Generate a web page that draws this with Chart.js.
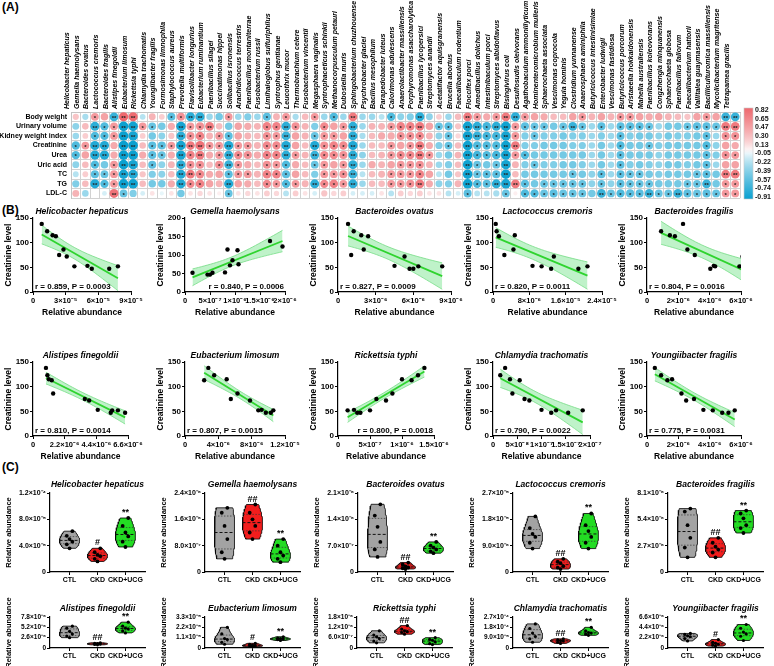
<!DOCTYPE html>
<html>
<head>
<meta charset="utf-8">
<title>Gut microbiota vs renal markers</title>
<script src="https://cdn.jsdelivr.net/npm/chart.js@4.4.1/dist/chart.umd.min.js"></script>
<style>
  body { margin: 0; background: #fff; }
  #page { position: relative; width: 774px; height: 666px; overflow: hidden; font-family: "Liberation Sans", Arial, sans-serif; }
  #page canvas { position: absolute; }
  .panel-tag { position: absolute; left: 2px; font-size: 12px; font-weight: bold; color: #000; }
</style>
</head>
<body>
<div id="page">
  <div class="panel-tag" style="top:0px">(A)</div>
  <div class="panel-tag" style="top:203px">(B)</div>
  <div class="panel-tag" style="top:460px">(C)</div>
</div>
<script>
// ---------- (A) correlation heatmap data ----------
const bacteria = [
  'Helicobacter hepaticus','Gemella haemolysans','Bacteroides ovatus','Lactococcus cremoris','Bacteroides fragilis','Alistipes finegoldii','Eubacterium limosum','Rickettsia typhi','Chlamydia trachomatis','Youngiibacter fragilis',
  'Formosimonas limnophila','Staphylococcus aureus','Prevotella multiformis','Flavisolibacter longurius','Eubacterium ruminantium','Paenibacillus silagei','Succinatimonas hippei','Solibacillus isronensis','Arachidicoccus terrestris','Paenibacillus montaniterrae',
  'Fusobacterium russii','Limihaloglobus sulfuriphilus','Syntrophus gentianae','Leucothrix mucor','Thermobrachium celere','Fusobacterium vincentii','Megasphaera vaginalis','Syntrophaceticus schinkii','Methanocorpusculum petauri','Dubosiella muris',
  'Sphingobacterium chuzhouense','Psychrobacter glaciei','Bacillus mesophilum','Parapedobacter luteus','Calorimonas adulescens','Anaerolactibacter massiliensis','Porphyromonas asaccharolytica','Paenibacillus lycopersici','Streptomyces anandii','Acetatifactor aquisgranensis',
  'Brucella abortus','Faecalibaculum rodentium','Floccifex porci','Amedibacillus dolichus','Intestinibaculum porci','Streptomyces albidoflavus','Bisingivirus coli','Desulfosudis oleivorans','Agathobaculum ammoniilyticum','Hominenteromicrobium mulieris',
  'Sphaerochaeta associata','Vescimonas coprocola','Yeguia hominis','Clostridium yunnanense','Anaerosphaera aminiphila','Butyricicoccus intestinisimiae','Enterobacter ludwigii','Vescimonas fastidiosa','Butyricicoccus porcorum','Aristaeella hokkaidonensis',
  'Mahella australiensis','Paenibacillus koleovorans','Congzhengia minquanensis','Sphaerochaeta globosa','Paenibacillus fallorum','Faecalibacterium hattorii','Vallitalea guaymasensis','Bacilliculturomica massiliensis','Mycolicibacterium magritense','Tetrapamea gracilis'
];
const clinicalVars = ['Body weight','Urinary volume','Kidney weight index','Creatinine','Urea','Uric acid','TC','TG','LDL-C'];

const bodyWeight = [
  0.25,-0.25,0.5,0.45,-0.7,0.82,0.8,-0.2,0.35,0.2,
  -0.55,0.55,-0.75,-0.75,-0.3,-0.45,0.5,-0.3,-0.4,-0.3,
  -0.55,0.35,0.5,-0.25,0.3,0.5,-0.3,-0.6,-0.3,0.7,
  -0.3,-0.3,-0.2,-0.6,-0.35,-0.4,-0.75,-0.35,0.2,-0.3,
  0.3,0.7,0.5,0.4,0.5,0.7,-0.75,0.5,0.45,0.4,
  0.3,0.3,0.45,0.5,0.35,0.45,0.35,0.5,0.5,0.45,
  0.4,0.45,0.35,0.3,0.25,0.45,0.5,0.45,-0.7,-0.7];
const urinaryVolume = [
  -0.35,0.3,-0.75,-0.6,0.5,-0.9,-0.88,0.5,-0.5,-0.45,
  0.4,-0.85,0.5,0.55,0.7,0.3,-0.45,0.45,0.4,0.35,
  0.65,0.65,-0.75,0.55,0.35,-0.4,0.6,0.45,0.5,-0.75,
  -0.3,0.35,0.35,0.5,0.65,0.65,0.7,0.45,-0.5,-0.55,
  0.25,-0.88,-0.75,-0.65,-0.75,-0.88,0.5,-0.55,-0.5,-0.5,
  -0.45,-0.5,-0.7,-0.5,-0.3,-0.55,-0.3,-0.55,-0.55,-0.55,
  -0.5,-0.3,-0.45,-0.45,-0.5,-0.55,-0.55,-0.5,0.7,0.7];
const kidneyWeightIndex = [
  -0.3,0.2,-0.6,-0.6,0.5,-0.9,-0.85,0.2,-0.45,-0.35,
  0.25,-0.75,0.55,0.65,0.35,0.5,-0.55,0.45,0.35,0.3,
  0.55,0.5,-0.7,0.45,0.35,-0.5,0.5,0.5,0.45,-0.75,
  -0.25,0.3,0.4,0.4,0.55,0.55,0.6,0.35,-0.35,-0.5,
  0.15,-0.88,-0.7,-0.65,-0.65,-0.85,0.5,-0.4,-0.5,-0.4,
  -0.4,-0.45,-0.4,-0.4,-0.3,-0.4,-0.3,-0.55,-0.4,-0.45,
  -0.45,-0.35,-0.45,-0.4,-0.4,-0.45,-0.55,-0.3,0.55,0.55];
const creatinine = [
  -0.6,0.5,-0.8,-0.8,0.4,-0.91,-0.9,0.3,-0.55,-0.55,
  0.5,-0.85,0.7,0.75,0.5,0.5,-0.8,0.5,0.5,0.35,
  0.6,0.6,-0.8,0.45,0.3,-0.8,0.55,0.65,0.6,-0.8,
  -0.3,0.3,0.3,0.5,0.45,0.5,0.7,0.4,-0.4,-0.5,
  0.3,-0.88,-0.6,-0.6,-0.6,-0.88,0.7,-0.4,-0.4,-0.45,
  -0.45,-0.45,-0.4,-0.4,-0.3,-0.45,-0.3,-0.6,-0.45,-0.45,
  -0.5,-0.4,-0.45,-0.45,-0.45,-0.45,-0.6,-0.35,0.45,0.4];
const urea = [
  -0.6,0.45,-0.8,-0.8,0.4,-0.91,-0.9,0.4,-0.55,-0.5,
  0.4,-0.85,0.65,0.7,0.4,0.5,-0.75,0.6,0.55,0.4,
  0.65,0.65,-0.75,0.5,0.35,-0.7,0.6,0.6,0.55,-0.75,
  -0.35,0.3,0.35,0.5,0.6,0.6,0.7,0.5,-0.3,-0.45,
  0.35,-0.88,-0.65,-0.6,-0.65,-0.88,0.5,-0.6,-0.45,-0.45,
  -0.45,-0.45,-0.45,-0.45,-0.3,-0.45,-0.3,-0.55,-0.45,-0.45,
  -0.45,-0.35,-0.45,-0.45,-0.45,-0.45,-0.55,-0.4,0.55,0.5];
const uricAcid = [
  -0.35,0.3,-0.6,-0.45,0.5,-0.9,-0.85,0.3,-0.55,-0.35,
  0.35,-0.75,0.55,0.55,0.3,0.55,-0.7,0.5,0.4,0.3,
  0.55,0.5,-0.6,0.4,0.3,-0.5,0.5,0.45,0.5,-0.75,
  -0.3,0.4,0.35,0.45,0.5,0.5,0.55,0.35,-0.3,-0.4,
  0.3,-0.88,-0.5,-0.45,-0.5,-0.85,0.35,-0.4,-0.5,-0.4,
  -0.4,-0.45,-0.45,-0.4,-0.3,-0.45,-0.3,-0.55,-0.4,-0.45,
  -0.4,-0.35,-0.45,-0.45,-0.4,-0.45,-0.55,-0.3,0.45,0.45];
const tc = [
  -0.2,0.2,-0.55,-0.5,0.5,-0.85,-0.8,0.25,-0.4,-0.35,
  0.3,-0.8,0.7,0.6,0.4,0.45,-0.55,0.5,0.5,0.35,
  0.65,0.65,-0.55,0.45,0.3,-0.4,0.5,0.5,0.55,-0.7,
  -0.2,0.3,0.35,0.5,0.5,0.5,0.65,0.45,-0.2,-0.45,
  0.25,-0.88,-0.5,-0.55,-0.55,-0.88,0.3,-0.45,-0.45,-0.45,
  -0.45,-0.45,-0.5,-0.45,-0.35,-0.55,-0.3,-0.55,-0.5,-0.5,
  -0.45,-0.4,-0.45,-0.45,-0.45,-0.5,-0.55,-0.45,0.7,0.7];
const tg = [
  -0.4,0.3,-0.8,-0.6,0.5,-0.9,-0.88,0.3,-0.45,-0.45,
  0.4,-0.8,0.6,0.65,0.45,0.35,-0.8,0.45,0.4,0.3,
  0.6,0.5,-0.6,0.5,0.35,-0.75,0.6,0.65,0.5,-0.75,
  -0.3,0.3,0.3,0.5,0.5,0.55,0.7,0.4,-0.35,-0.4,
  0.35,-0.88,-0.6,-0.55,-0.75,-0.85,0.7,-0.55,-0.45,-0.5,
  -0.5,-0.5,-0.5,-0.5,-0.35,-0.5,-0.35,-0.55,-0.5,-0.5,
  -0.5,-0.45,-0.45,-0.45,-0.5,-0.5,-0.7,-0.45,0.5,0.5];
const ldlC = [
  0.35,-0.3,0,-0.1,0.75,-0.5,-0.4,-0.1,0.1,-0.05,
  0.1,-0.45,0.1,0.15,0.1,0.05,-0.5,0.1,0.15,0.1,
  0.2,0.15,-0.2,0.2,0.1,-0.1,0.25,0.15,0.2,-0.1,
  -0.1,-0.1,0.1,-0.2,0.2,0.15,0.2,0.1,0.1,-0.2,
  -0.1,-0.55,-0.2,-0.2,-0.25,-0.5,0.05,-0.6,-0.6,-0.5,
  -0.55,-0.5,-0.5,-0.5,-0.45,-0.7,-0.5,-0.6,-0.55,-0.55,
  -0.7,-0.5,-0.5,-0.7,-0.55,-0.5,-0.55,-0.5,0.5,0.5];
const legendTicks = ['0.82','0.65','0.47','0.30','0.13','-0.05','-0.22','-0.39','-0.57','-0.74','-0.91'];

// ---------- (B) creatinine vs relative abundance ----------
const helicobacterAbund = [0.8e-5,1.3e-5,1.8e-5,2.1e-5,2.4e-5,2.8e-5,3.1e-5,3.8e-5,5.0e-5,5.4e-5,7.0e-5,7.8e-5];
const helicobacterCreat = [138,123,115,113,75,86,72,52,53,47,47,52];
const gemellaAbund = [0.15e-6,0.45e-6,0.5e-6,0.55e-6,0.8e-6,0.85e-6,0.9e-6,0.95e-6,1.05e-6,1.07e-6,1.7e-6,1.95e-6];
const gemellaCreat = [52,47,47,52,53,115,72,86,113,75,138,123];
const ovatusAbund = [0.8e-6,1.05e-6,1.25e-6,1.85e-6,2.05e-6,2.4e-6,4.5e-6,5.3e-6,5.7e-6,6.0e-6,6.4e-6,8.3e-6];
const ovatusCreat = [138,75,123,115,86,113,53,72,47,47,52,52];
const lactococcusAbund = [0.06e-5,0.08e-5,0.13e-5,0.25e-5,0.45e-5,0.48e-5,0.87e-5,1.07e-5,1.28e-5,1.34e-5,1.88e-5,2.08e-5];
const lactococcusCreat = [138,123,113,75,86,115,53,52,47,72,47,52];
const fragilisAbund = [0.9e-6,1.46e-6,1.78e-6,2.3e-6,2.58e-6,3.05e-6,4.04e-6,4.26e-6,4.35e-6,5.9e-6,6.1e-6,6.4e-6];
const fragilisCreat = [123,115,113,138,86,75,47,53,52,52,72,47];
const alistipesAbund = [0.9e-6,1.0e-6,1.1e-6,1.3e-6,1.4e-6,3.6e-6,3.9e-6,4.5e-6,5.4e-6,5.5e-6,5.9e-6,6.4e-6];
const alistipesCreat = [138,123,115,113,86,75,72,53,47,52,52,47];
const limosumAbund = [2.3e-6,2.8e-6,3.5e-6,5.0e-6,5.5e-6,6.3e-6,7.8e-6,8.8e-6,9.2e-6,9.7e-6,10.3e-6,10.6e-6];
const limosumCreat = [113,138,123,115,75,86,72,52,53,47,47,52];
const rickettsiaAbund = [1.5e-7,2.5e-7,3.0e-7,3.5e-7,5.0e-7,6.0e-7,7.5e-7,8.5e-7,10.0e-7,11.5e-7,12.5e-7,13.5e-7];
const rickettsiaCreat = [52,53,47,47,52,75,72,86,115,113,123,138];
const chlamydiaAbund = [1.5e-8,2.5e-8,3.5e-8,4.0e-8,5.5e-8,6.5e-8,7.5e-8,10.0e-8,12.0e-8,13.0e-8,15.5e-8,18.5e-8];
const chlamydiaCreat = [123,138,115,86,113,75,72,53,47,52,47,52];
const youngiiAbund = [0.5e-6,0.9e-6,1.3e-6,1.6e-6,2.2e-6,2.5e-6,3.0e-6,3.6e-6,4.2e-6,4.8e-6,5.2e-6,5.6e-6];
const youngiiCreat = [138,123,113,115,86,72,75,53,52,47,47,52];

// ---------- (C) relative abundance per group: [CTL, CKD, CKD+UCG] ----------
const groupNames = ['CTL','CKD','CKD+UCG'];
const violinHelicobacter = [[3.6e-5,4.2e-5,4.6e-5,5.0e-5,5.5e-5,6.2e-5],[1.6e-5,2.0e-5,2.4e-5,2.6e-5,3.0e-5,3.6e-5],[3.8e-5,4.6e-5,5.4e-5,6.0e-5,7.0e-5,8.2e-5]];
const violinGemella = [[4e-7,6e-7,10e-7,14e-7,18e-7,19.5e-7],[10e-7,12e-7,14e-7,16e-7,18e-7,20.5e-7],[3e-7,4e-7,5e-7,6e-7,8e-7,10e-7]];
const violinOvatus = [[4e-7,6e-7,8e-7,12e-7,15e-7,18e-7],[0.8e-7,1e-7,1.2e-7,1.5e-7,2e-7,2.5e-7],[5e-7,5.5e-7,6e-7,6.5e-7,7e-7,8e-7]];
const violinLactococcus = [[8e-6,10e-6,12e-6,13e-6,15e-6,19e-6],[1e-6,1.5e-6,2e-6,3e-6,3.5e-6,4.5e-6],[8e-6,10e-6,12e-6,14e-6,16e-6,20e-6]];
const violinFragilis = [[1.5e-6,2.5e-6,3.5e-6,4.8e-6,6.2e-6,6.5e-6],[1.5e-6,2e-6,2.3e-6,2.6e-6,3e-6,3.5e-6],[4e-6,4.5e-6,4.8e-6,5.5e-6,6e-6,6.3e-6]];
const violinAlistipes = [[2.6e-6,3.0e-6,3.5e-6,4.2e-6,5.0e-6,5.5e-6],[0.8e-6,0.9e-6,1.0e-6,1.1e-6,1.2e-6,1.3e-6],[3.8e-6,4.3e-6,4.8e-6,5.0e-6,5.5e-6,6.5e-6]];
const violinLimosum = [[4e-6,6e-6,9e-6,10e-6,15e-6,22e-6],[1.5e-6,2e-6,2.5e-6,3e-6,4e-6,5e-6],[8e-6,9e-6,9.5e-6,10e-6,10.5e-6,12e-6]];
const violinRickettsia = [[3e-7,4e-7,5.5e-7,6.5e-7,7.5e-7,10e-7],[8e-7,9e-7,9.5e-7,10e-7,11e-7,13e-7],[2e-7,2.5e-7,3.5e-7,4.5e-7,5e-7,6e-7]];
const violinChlamydia = [[5e-5,8e-5,10e-5,13e-5,17e-5,21e-5],[4e-5,5e-5,6e-5,6.5e-5,7e-5,8e-5],[11e-5,12e-5,13e-5,13.5e-5,15e-5,18e-5]];
const violinYoungii = [[1.5e-6,2e-6,2.4e-6,2.6e-6,2.9e-6,3.1e-6],[0.4e-6,0.6e-6,0.8e-6,1.0e-6,1.2e-6,1.8e-6],[1.6e-6,2.5e-6,3.0e-6,3.4e-6,4.2e-6,5.0e-6]];

// ---------- shared setup ----------
Chart.defaults.font.family = '"Liberation Sans", Arial, sans-serif';
Chart.defaults.color = '#000';
Chart.defaults.animation = false;
Chart.defaults.events = [];
Chart.defaults.plugins.legend.display = false;
Chart.defaults.plugins.tooltip.enabled = false;
const FONT = '"Liberation Sans", Arial, sans-serif';

const page = document.getElementById('page');
function addCanvas(left, top, width, height) {
  const c = document.createElement('canvas');
  c.width = width; c.height = height;
  c.style.left = left + 'px'; c.style.top = top + 'px';
  c.style.width = width + 'px'; c.style.height = height + 'px';
  page.appendChild(c);
  return c;
}

// colour scale of the correlation map
function corrColor(v) {
  const red = [238, 104, 110], blue = [10, 160, 208];
  const t = v >= 0 ? Math.min(v / 0.82, 1) : Math.min(-v / 0.91, 1);
  const end = v >= 0 ? red : blue;
  const k = Math.pow(t, 0.8);
  const c = end.map(e => Math.round(255 + (e - 255) * k));
  return 'rgb(' + c.join(',') + ')';
}
function bubbleRadius(v) { return 1.2 + 3.8 * Math.sqrt(Math.abs(v)); }

// ---------- (A) ----------
const rowSeries = [bodyWeight, urinaryVolume, kidneyWeightIndex, creatinine, urea, uricAcid, tc, tg, ldlC];
const cells = [];
clinicalVars.forEach((name, r) => rowSeries[r].forEach((v, c) => cells.push({ x: bacteria[c], y: name, v: v })));

const starPlugin = {
  id: 'stars',
  afterDatasetsDraw(chart) {
    const ctx = chart.ctx;
    const meta = chart.getDatasetMeta(0);
    ctx.save();
    ctx.fillStyle = '#222';
    ctx.font = 'bold 6px ' + FONT;
    ctx.textAlign = 'center';
    ctx.textBaseline = 'middle';
    meta.data.forEach((pt, i) => {
      const a = Math.abs(cells[i].v);
      const mark = a >= 0.7 ? '**' : a >= 0.5 ? '*' : '';
      if (mark) ctx.fillText(mark, pt.x, pt.y + 1.5);
    });
    ctx.restore();
  }
};

const colorBarPlugin = {
  id: 'colorBar',
  afterDraw(chart) {
    const ctx = chart.ctx;
    const x = 744, w = 9, top = 108, bottom = 199;
    const hi = parseFloat(legendTicks[0]), lo = parseFloat(legendTicks[legendTicks.length - 1]);
    const grad = ctx.createLinearGradient(0, top, 0, bottom);
    for (let k = 0; k <= 20; k++) grad.addColorStop(k / 20, corrColor(hi - (hi - lo) * k / 20));
    ctx.save();
    ctx.fillStyle = grad;
    ctx.fillRect(x, top, w, bottom - top);
    ctx.strokeStyle = '#c8c8c8';
    ctx.lineWidth = 0.6;
    ctx.strokeRect(x, top, w, bottom - top);
    ctx.fillStyle = '#111';
    ctx.font = 'bold 7px ' + FONT;
    ctx.textAlign = 'left';
    ctx.textBaseline = 'middle';
    const step = (bottom - top - 4) / (legendTicks.length - 1);
    legendTicks.forEach((t, i) => ctx.fillText(t, x + w + 2, top + 2 + i * step));
    ctx.restore();
  }
};

new Chart(addCanvas(0, 0, 774, 203), {
  type: 'bubble',
  data: { datasets: [{
    data: cells,
    radius: c => bubbleRadius(c.raw.v),
    backgroundColor: c => corrColor(c.raw.v),
    borderWidth: 0
  }] },
  options: {
    responsive: false,
    layout: { padding: { left: 0, top: 0, right: 34, bottom: 3 } },
    scales: {
      x: {
        type: 'category', labels: bacteria, position: 'top', offset: true,
        grid: { offset: true, color: '#d2d2d2', drawTicks: false },
        border: { color: '#c4c4c4' },
        ticks: { autoSkip: false, minRotation: 90, maxRotation: 90, padding: 3, font: { size: 7, style: 'italic', weight: 'bold' } },
        afterFit: s => { s.height = 112; s.paddingLeft = 0; s.paddingRight = 0; }
      },
      y: {
        type: 'category', labels: clinicalVars, offset: true,
        grid: { offset: true, color: '#d2d2d2', drawTicks: false },
        border: { color: '#c4c4c4' },
        ticks: { autoSkip: false, padding: 4, font: { size: 7, weight: 'bold' } },
        afterFit: s => { s.width = 71; s.paddingTop = 0; s.paddingBottom = 0; }
      }
    }
  },
  plugins: [starPlugin, colorBarPlugin]
});

// ---------- text drawn around the small plots ----------
const panelText = {
  id: 'panelText',
  afterDraw(chart, args, opts) {
    const { ctx, chartArea: a } = chart;
    ctx.save();
    ctx.fillStyle = '#000';
    ctx.textAlign = 'center';
    ctx.textBaseline = 'bottom';
    ctx.font = 'italic bold 8.5px ' + FONT;
    ctx.fillText(opts.title, (a.left + a.right) / 2, a.top - opts.titleGap);
    if (opts.stat) {
      ctx.font = 'bold 8px ' + FONT;
      ctx.textAlign = opts.statRight ? 'right' : 'left';
      ctx.fillText(opts.stat, opts.statRight ? a.right - 1 : a.left + 2, a.bottom - 1);
    }
    if (opts.marks) {
      const xs = chart.scales.x, ys = chart.scales.y;
      ctx.font = 'bold 9px ' + FONT;
      ctx.textAlign = 'center';
      opts.marks.forEach((m, g) => {
        if (!m) return;
        const top = Math.max(...opts.groups[g]);
        ctx.fillText(m, xs.getPixelForValue(g + 1), ys.getPixelForValue(top) - 1);
      });
    }
    ctx.restore();
  }
};

function axisStyle(extra) {
  return Object.assign({
    grid: { drawOnChartArea: false, color: '#000', tickLength: 3, lineWidth: 1 },
    border: { color: '#000', width: 1.2 }
  }, extra);
}

// ---------- (B) ----------
const T_CRIT = { 9: 2.262, 10: 2.228, 11: 2.201 };
function regressionBand(xs, ys) {
  const n = xs.length;
  const mx = xs.reduce((a, b) => a + b, 0) / n, my = ys.reduce((a, b) => a + b, 0) / n;
  let sxx = 0, sxy = 0;
  xs.forEach((x, i) => { sxx += (x - mx) ** 2; sxy += (x - mx) * (ys[i] - my); });
  const b = sxy / sxx, a = my - b * mx;
  let sse = 0;
  xs.forEach((x, i) => { sse += (ys[i] - a - b * x) ** 2; });
  const s = Math.sqrt(sse / (n - 2)), t = T_CRIT[n - 2] || 2.228;
  const lo = Math.min(...xs), hi = Math.max(...xs);
  const line = [{ x: lo, y: a + b * lo }, { x: hi, y: a + b * hi }];
  const upper = [], lower = [];
  for (let k = 0; k <= 30; k++) {
    const x = lo + (hi - lo) * k / 30;
    const half = t * s * Math.sqrt(1 / n + (x - mx) ** 2 / sxx);
    upper.push({ x: x, y: a + b * x + half });
    lower.push({ x: x, y: a + b * x - half });
  }
  return { line, upper, lower };
}

const scatterSpecs = [
  { title: 'Helicobacter hepaticus', x: helicobacterAbund, y: helicobacterCreat, stat: 'r = 0.859, P = 0.0003', xMax: 9e-5, xTicks: [0, 3e-5, 6e-5, 9e-5], xLabels: ['0', '3×10⁻⁵', '6×10⁻⁵', '9×10⁻⁵'], yMax: 150, axisX: 33, top: 218, plotW: 98 },
  { title: 'Gemella haemolysans', x: gemellaAbund, y: gemellaCreat, stat: 'r = 0.840, P = 0.0006', statRight: true, xMax: 2e-6, xTicks: [0, 5e-7, 1e-6, 1.5e-6, 2e-6], xLabels: ['0', '5×10⁻⁷', '1×10⁻⁶', '1.5×10⁻⁶', '2×10⁻⁶'], yMax: 200, axisX: 185, top: 218, plotW: 100 },
  { title: 'Bacteroides ovatus', x: ovatusAbund, y: ovatusCreat, stat: 'r = 0.827, P = 0.0009', xMax: 9e-6, xTicks: [0, 3e-6, 6e-6, 9e-6], xLabels: ['0', '3×10⁻⁶', '6×10⁻⁶', '9×10⁻⁶'], yMax: 150, axisX: 338, top: 218, plotW: 113 },
  { title: 'Lactococcus cremoris', x: lactococcusAbund, y: lactococcusCreat, stat: 'r = 0.820, P = 0.0011', xMax: 2.4e-5, xTicks: [0, 8e-6, 1.6e-5, 2.4e-5], xLabels: ['0', '8×10⁻⁶', '1.6×10⁻⁵', '2.4×10⁻⁵'], yMax: 150, axisX: 493, top: 218, plotW: 109 },
  { title: 'Bacteroides fragilis', x: fragilisAbund, y: fragilisCreat, stat: 'r = 0.804, P = 0.0016', xMax: 6e-6, xTicks: [0, 2e-6, 4e-6, 6e-6], xLabels: ['0', '2×10⁻⁶', '4×10⁻⁶', '6×10⁻⁶'], yMax: 150, axisX: 647, top: 218, plotW: 94 },
  { title: 'Alistipes finegoldii', x: alistipesAbund, y: alistipesCreat, stat: 'r = 0.810, P = 0.0014', xMax: 6.6e-6, xTicks: [0, 2.2e-6, 4.4e-6, 6.6e-6], xLabels: ['0', '2.2×10⁻⁶', '4.4×10⁻⁶', '6.6×10⁻⁶'], yMax: 150, axisX: 33, top: 362, plotW: 95 },
  { title: 'Eubacterium limosum', x: limosumAbund, y: limosumCreat, stat: 'r = 0.807, P = 0.0015', xMax: 1.2e-5, xTicks: [0, 4e-6, 8e-6, 1.2e-5], xLabels: ['0', '4×10⁻⁶', '8×10⁻⁶', '1.2×10⁻⁵'], yMax: 150, axisX: 185, top: 362, plotW: 100 },
  { title: 'Rickettsia typhi', x: rickettsiaAbund, y: rickettsiaCreat, stat: 'r = 0.800, P = 0.0018', statRight: true, xMax: 1.5e-6, xTicks: [0, 5e-7, 1e-6, 1.5e-6], xLabels: ['0', '5×10⁻⁷', '1×10⁻⁶', '1.5×10⁻⁶'], yMax: 150, axisX: 338, top: 362, plotW: 96 },
  { title: 'Chlamydia trachomatis', x: chlamydiaAbund, y: chlamydiaCreat, stat: 'r = 0.790, P = 0.0022', xMax: 2e-7, xTicks: [0, 5e-8, 1e-7, 1.5e-7, 2e-7], xLabels: ['0', '5×10⁻⁸', '1×10⁻⁷', '1.5×10⁻⁷', '2×10⁻⁷'], yMax: 150, axisX: 493, top: 362, plotW: 97 },
  { title: 'Youngiibacter fragilis', x: youngiiAbund, y: youngiiCreat, stat: 'r = 0.775, P = 0.0031', xMax: 6e-6, xTicks: [0, 2e-6, 4e-6, 6e-6], xLabels: ['0', '2×10⁻⁶', '4×10⁻⁶', '6×10⁻⁶'], yMax: 150, axisX: 647, top: 362, plotW: 94 }
];

function drawScatter(spec) {
  const yW = 29, padTop = 14, plotH = 74, xH = 26, padRight = 22;
  const fit = regressionBand(spec.x, spec.y);
  new Chart(addCanvas(spec.axisX - yW, spec.top - padTop, yW + spec.plotW + padRight, padTop + plotH + xH), {
    type: 'line',
    data: { datasets: [
      { data: spec.x.map((x, i) => ({ x: x, y: spec.y[i] })), showLine: false, pointRadius: 2.2, pointBackgroundColor: '#000', pointBorderWidth: 0 },
      { data: fit.line, borderColor: '#2fd42f', borderWidth: 1.8, pointRadius: 0 },
      { data: fit.upper, borderColor: '#74dc84', borderWidth: 0.8, pointRadius: 0, fill: '+1', backgroundColor: 'rgba(128,230,148,0.5)' },
      { data: fit.lower, borderColor: '#74dc84', borderWidth: 0.8, pointRadius: 0 }
    ] },
    options: {
      responsive: false,
      layout: { padding: { left: 0, top: padTop, right: padRight, bottom: 0 } },
      plugins: { panelText: { title: spec.title, titleGap: 2, stat: spec.stat, statRight: spec.statRight } },
      scales: {
        x: axisStyle({
          type: 'linear', min: 0, max: spec.xMax,
          afterBuildTicks: s => { s.ticks = spec.xTicks.map(v => ({ value: v })); },
          afterFit: s => { s.height = xH; s.paddingLeft = 0; s.paddingRight = 0; },
          ticks: { autoSkip: false, maxRotation: 0, padding: 1, font: { size: 7.5, weight: 'bold' }, callback: (v, i) => spec.xLabels[i] },
          title: { display: true, text: 'Relative abundance', font: { size: 8.5, weight: 'bold' }, padding: 0 }
        }),
        y: axisStyle({
          type: 'linear', min: 0, max: spec.yMax,
          afterFit: s => { s.width = yW; s.paddingTop = 0; s.paddingBottom = 0; },
          ticks: { stepSize: 50, padding: 1, font: { size: 8, weight: 'bold' } },
          title: { display: true, text: 'Creatinine level', font: { size: 8.5, weight: 'bold' }, padding: 0 }
        })
      }
    },
    plugins: [panelText]
  });
}
scatterSpecs.forEach(drawScatter);

// ---------- (C) ----------
const groupColors = ['#a3a3a3', '#f21d1d', '#23dc23'];

function kde(vals, y, h) {
  let s = 0;
  vals.forEach(v => { const u = (y - v) / h; s += Math.exp(-0.5 * u * u); });
  return s / (vals.length * h);
}
function quantile(sorted, q) {
  const pos = (sorted.length - 1) * q, i = Math.floor(pos), f = pos - i;
  return sorted[i] + (sorted[Math.min(i + 1, sorted.length - 1)] - sorted[i]) * f;
}
function violinParts(vals, g, halfW) {
  const n = vals.length, mean = vals.reduce((a, b) => a + b, 0) / n;
  const sd = Math.sqrt(vals.reduce((a, b) => a + (b - mean) ** 2, 0) / (n - 1));
  const h = 1.06 * sd * Math.pow(n, -0.2);
  const sorted = vals.slice().sort((a, b) => a - b);
  const lo = sorted[0], hi = sorted[n - 1];
  const ys = [], ds = [];
  for (let k = 0; k <= 30; k++) { const y = lo + (hi - lo) * k / 30; ys.push(y); ds.push(kde(vals, y, h)); }
  const dmax = Math.max(...ds);
  const right = ys.map((y, k) => ({ x: g + halfW * ds[k] / dmax, y: y }));
  const left = ys.map((y, k) => ({ x: g - halfW * ds[k] / dmax, y: y })).reverse();
  const across = q => { const y = quantile(sorted, q); const w = halfW * kde(vals, y, h) / dmax; return [{ x: g - w, y: y }, { x: g + w, y: y }]; };
  const swarm = sorted.map((y, k) => ({ x: g + [0, -0.1, 0.1][k % 3], y: y }));
  return { outline: right.concat(left, [right[0]]), median: across(0.5), q1: across(0.25), q3: across(0.75), swarm };
}

const violinSpecs = [
  { title: 'Helicobacter hepaticus', groups: violinHelicobacter, marks: ['', '#', '**'], yTicks: [0, 4e-5, 8e-5, 1.2e-4], yLabels: ['0', '4.0×10⁻⁵', '8.0×10⁻⁵', '1.2×10⁻⁴'], axisX: 50, top: 493, plotH: 79 },
  { title: 'Gemella haemolysans', groups: violinGemella, marks: ['', '##', '**'], yTicks: [0, 8e-7, 1.6e-6, 2.4e-6], yLabels: ['0', '8.0×10⁻⁷', '1.6×10⁻⁶', '2.4×10⁻⁶'], axisX: 205, top: 493, plotH: 79 },
  { title: 'Bacteroides ovatus', groups: violinOvatus, marks: ['', '##', '**'], yTicks: [0, 7e-7, 1.4e-6, 2.1e-6], yLabels: ['0', '7.0×10⁻⁷', '1.4×10⁻⁶', '2.1×10⁻⁶'], axisX: 358, top: 493, plotH: 79 },
  { title: 'Lactococcus cremoris', groups: violinLactococcus, marks: ['', '##', '**'], yTicks: [0, 9e-6, 1.8e-5, 2.7e-5], yLabels: ['0', '9.0×10⁻⁶', '1.8×10⁻⁵', '2.7×10⁻⁵'], axisX: 513, top: 493, plotH: 79 },
  { title: 'Bacteroides fragilis', groups: violinFragilis, marks: ['', '##', '**'], yTicks: [0, 2.7e-6, 5.4e-6, 8.1e-6], yLabels: ['0', '2.7×10⁻⁶', '5.4×10⁻⁶', '8.1×10⁻⁶'], axisX: 668, top: 493, plotH: 79 },
  { title: 'Alistipes finegoldii', groups: violinAlistipes, marks: ['', '##', '**'], yTicks: [0, 2.6e-6, 5.2e-6, 7.8e-6], yLabels: ['0', '2.6×10⁻⁶', '5.2×10⁻⁶', '7.8×10⁻⁶'], axisX: 50, top: 617, plotH: 31 },
  { title: 'Eubacterium limosum', groups: violinLimosum, marks: ['', '#', '**'], yTicks: [0, 1.1e-5, 2.2e-5, 3.3e-5], yLabels: ['0', '1.1×10⁻⁵', '2.2×10⁻⁵', '3.3×10⁻⁵'], axisX: 205, top: 617, plotH: 31 },
  { title: 'Rickettsia typhi', groups: violinRickettsia, marks: ['', '##', '**'], yTicks: [0, 6e-7, 1.2e-6, 1.8e-6], yLabels: ['0', '6.0×10⁻⁷', '1.2×10⁻⁶', '1.8×10⁻⁶'], axisX: 357, top: 617, plotH: 31 },
  { title: 'Chlamydia trachomatis', groups: violinChlamydia, marks: ['', '##', '**'], yTicks: [0, 9e-5, 1.8e-4, 2.7e-4], yLabels: ['0', '9.0×10⁻⁵', '1.8×10⁻⁴', '2.7×10⁻⁴'], axisX: 513, top: 617, plotH: 31 },
  { title: 'Youngiibacter fragilis', groups: violinYoungii, marks: ['', '#', '**'], yTicks: [0, 2.2e-6, 4.4e-6, 6.6e-6], yLabels: ['0', '2.2×10⁻⁶', '4.4×10⁻⁶', '6.6×10⁻⁶'], axisX: 668, top: 617, plotH: 31 }
];

function drawViolin(spec) {
  const yW = 46, padTop = 24, padBottom = 8, plotH = spec.plotH, xH = 12, plotW = 95, padRight = 12;
  const small = plotH < 50;
  const parts = spec.groups.map((vals, g) => violinParts(vals, g + 1, 0.36));
  const datasets = [];
  parts.forEach(p => datasets.push({ data: p.swarm, showLine: false, pointRadius: small ? 1.6 : 1.9, pointBackgroundColor: '#000', pointBorderWidth: 0 }));
  parts.forEach(p => {
    datasets.push({ data: p.median, borderColor: '#111', borderWidth: 1, borderDash: [3, 2], pointRadius: 0 });
    datasets.push({ data: p.q1, borderColor: '#333', borderWidth: 0.7, borderDash: [1.5, 1.5], pointRadius: 0 });
    datasets.push({ data: p.q3, borderColor: '#333', borderWidth: 0.7, borderDash: [1.5, 1.5], pointRadius: 0 });
  });
  parts.forEach((p, g) => datasets.push({ data: p.outline, borderColor: '#000', borderWidth: 0.8, backgroundColor: groupColors[g], fill: 'shape', pointRadius: 0 }));
  new Chart(addCanvas(spec.axisX - yW, spec.top - padTop, yW + plotW + padRight, padTop + plotH + xH + padBottom), {
    type: 'line',
    data: { datasets: datasets },
    options: {
      responsive: false,
      layout: { padding: { left: 0, top: padTop, right: padRight, bottom: padBottom } },
      plugins: { panelText: { title: spec.title, titleGap: 4, marks: spec.marks, groups: spec.groups } },
      scales: {
        x: axisStyle({
          type: 'linear', min: 0.3, max: 3.7,
          afterBuildTicks: s => { s.ticks = [1, 2, 3].map(v => ({ value: v })); },
          afterFit: s => { s.height = xH; s.paddingLeft = 0; s.paddingRight = 0; },
          ticks: { autoSkip: false, maxRotation: 0, padding: 1, font: { size: 7, weight: 'bold' }, callback: v => groupNames[v - 1] }
        }),
        y: axisStyle({
          type: 'linear', min: 0, max: spec.yTicks[spec.yTicks.length - 1],
          afterBuildTicks: s => { s.ticks = spec.yTicks.map(v => ({ value: v })); },
          afterFit: s => { s.width = yW; s.paddingTop = 0; s.paddingBottom = 0; },
          ticks: { autoSkip: false, padding: 1, font: { size: small ? 6.5 : 7, weight: 'bold' }, callback: (v, i) => spec.yLabels[i] },
          title: { display: true, text: 'Relative abundance', font: { size: 7.5, weight: 'bold' }, padding: 0 }
        })
      }
    },
    plugins: [panelText]
  });
}
violinSpecs.forEach(drawViolin);
</script>
</body>
</html>
